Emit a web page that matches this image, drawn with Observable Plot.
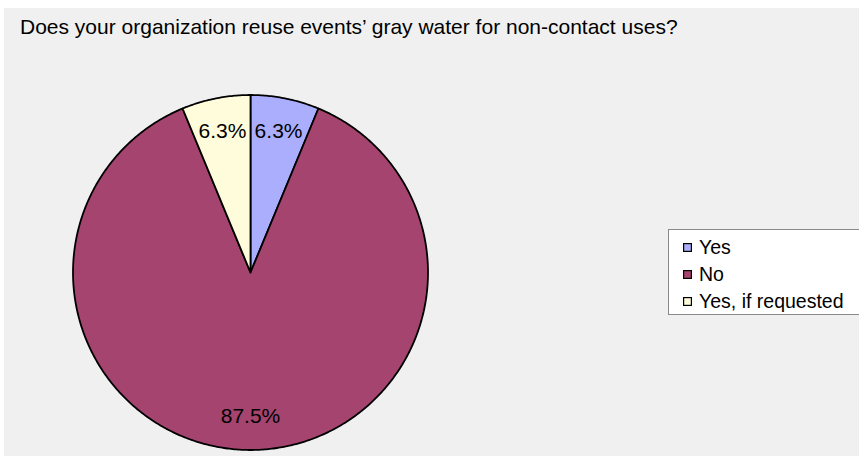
<!DOCTYPE html>
<html><head><meta charset="utf-8">
<script src="https://cdn.jsdelivr.net/npm/d3@7"></script>
<script src="https://cdn.jsdelivr.net/npm/@observablehq/plot@0.6"></script>
<style>
body{margin:0;background:#fff;font-family:"Liberation Sans",Arial,sans-serif;}
#wrap{position:absolute;left:4px;top:8px;width:855px;height:448px;background:#f0f0f0;overflow:hidden;}
#title{position:absolute;left:16px;top:7px;font-size:21px;line-height:24px;color:#000;white-space:nowrap;}
#chart{position:absolute;left:0;top:0;}
#legend{position:absolute;left:664px;top:221px;width:210px;height:86px;background:#fff;border:1px solid #8a8a8a;box-sizing:border-box;padding:4px 0 0 14px;}
#legend .lg-swatches{font-family:"Liberation Sans",Arial,sans-serif;font-size:19.5px;color:#000;margin:0;}
#legend .lg-swatch{height:27px;padding:0;display:flex;align-items:center;}
#legend .lg-swatch > svg{margin-right:7px;overflow:hidden;}
#legend .lg-swatch > svg rect{stroke:#000;stroke-width:2.4;}
</style>
</head><body>
<div id="wrap">
  <div id="chart"></div>
  <div id="title"></div>
  <div id="legend"></div>
</div>
<script>
const title = "Does your organization reuse events’ gray water for non-contact uses?";
const categories = ["Yes", "No", "Yes, if requested"];
const counts = [1, 14, 1];
const colors = ["#abadfd", "#a4446f", "#fffcdb"];

document.getElementById("title").textContent = title;

const total = d3.sum(counts);
const rows = categories.map((c, i) => ({cat: c, count: counts[i], pct: counts[i] / total * 100}));
const arcs = d3.pie().sort(null).value(d => d.count)(rows);

// outline of each slice (center + arc), in unit-circle coordinates
const pts = [];
for (const a of arcs) {
  pts.push({cat: a.data.cat, x: 0, y: 0});
  const n = Math.max(2, Math.ceil((a.endAngle - a.startAngle) / 0.01));
  for (let k = 0; k <= n; k++) {
    const t = a.startAngle + (a.endAngle - a.startAngle) * k / n;
    pts.push({cat: a.data.cat, x: Math.sin(t), y: Math.cos(t)});
  }
}
const lbl = arcs.map(a => {
  const t = (a.startAngle + a.endAngle) / 2;
  const rr = 0.81;
  return {x: rr * Math.sin(t), y: rr * Math.cos(t), text: a.data.pct.toFixed(1) + "%"};
});

const cx = 246, cy = 264, r = 177.5;
const chart = Plot.plot({
  width: 855, height: 448, margin: 0,
  style: {background: "transparent", fontFamily: "Liberation Sans, Arial, sans-serif", overflow: "visible"},
  x: {domain: [-1, 1], range: [cx - r, cx + r], axis: null},
  y: {domain: [-1, 1], range: [cy + r, cy - r], axis: null},
  color: {domain: categories, range: colors},
  marks: [
    Plot.line(pts, {x: "x", y: "y", z: "cat", fill: "cat", stroke: "#000", strokeWidth: 1.8, curve: "linear-closed"}),
    Plot.text(lbl, {x: "x", y: "y", text: "text", fontSize: 21, fill: "#000"})
  ]
});
document.getElementById("chart").appendChild(chart);
document.getElementById("legend").appendChild(chart.legend("color", {className: "lg", columns: 1, swatchSize: 9}));
</script>
</body></html>
